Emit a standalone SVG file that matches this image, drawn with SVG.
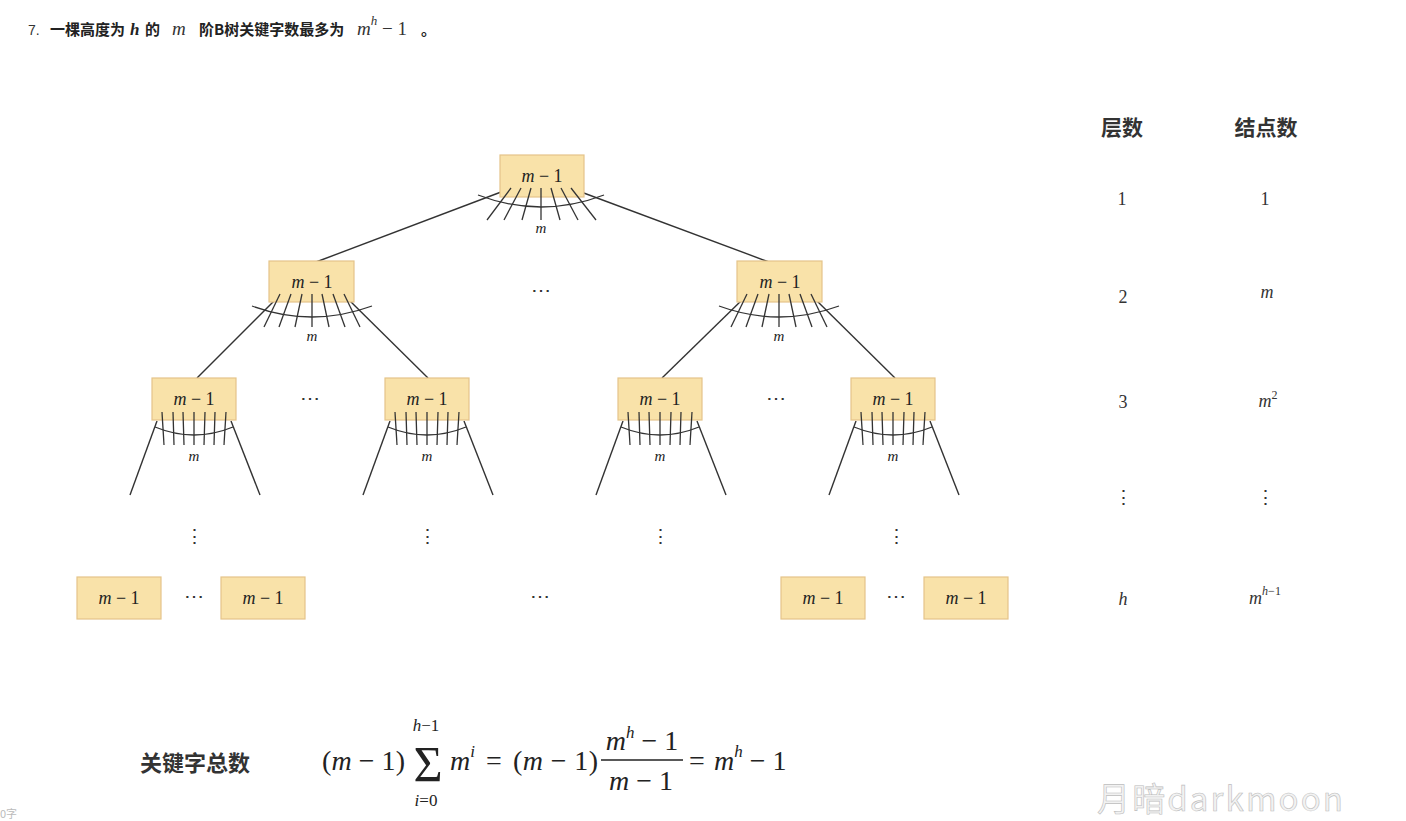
<svg xmlns="http://www.w3.org/2000/svg" width="1406" height="821" viewBox="0 0 1406 821">
<style>
.box{fill:#f9e2a9;stroke:#e4c48a;stroke-width:1.2}
.lbl{font-family:"Liberation Serif",serif;font-size:18px;fill:#222;text-anchor:middle}
.it{font-style:italic}
.edge{stroke:#333;stroke-width:1.4;fill:none}
.fan line{stroke:#333;stroke-width:1.3}
.fan path{stroke:#333;stroke-width:1.3;fill:none}
.sm{font-family:"Liberation Serif",serif;font-size:15px;font-style:italic;fill:#222;text-anchor:middle}
.dots{font-family:"DejaVu Serif",serif;font-size:20px;fill:#333;text-anchor:middle}
.vd{font-family:"DejaVu Serif",serif;font-size:19px;fill:#333;text-anchor:middle}
.hd{font-family:"Noto Sans CJK SC",sans-serif;font-size:21px;font-weight:bold;fill:#333;text-anchor:middle}
.tb{font-family:"Liberation Serif",serif;font-size:18px;fill:#333;text-anchor:middle}
.f{font-family:"Liberation Serif",serif;font-size:28px;fill:#222}
.fs{font-family:"Liberation Serif",serif;font-size:17px;fill:#222}
.t{font-family:"Noto Sans CJK SC",sans-serif;font-size:15px;font-weight:bold;fill:#222}
.tm{font-family:"Liberation Serif",serif;font-size:19px;fill:#333}
</style>
<defs>
<g id="fanA" class="fan">
<line x1="-32" y1="-8" x2="-48" y2="25"/>
<line x1="-21" y1="-8" x2="-33" y2="25"/>
<line x1="-10" y1="-8" x2="-17" y2="25"/>
<line x1="0" y1="-8" x2="0" y2="25"/>
<line x1="10" y1="-8" x2="17" y2="25"/>
<line x1="21" y1="-8" x2="33" y2="25"/>
<line x1="32" y1="-8" x2="48" y2="25"/>
<path d="M -60 4 Q 0 26 60 4"/>
</g>
<g id="fanB" class="fan">
<line x1="-32" y1="-8" x2="-30" y2="25"/>
<line x1="-21" y1="-8" x2="-20" y2="25"/>
<line x1="-11" y1="-8" x2="-10" y2="25"/>
<line x1="0" y1="-8" x2="0" y2="25"/>
<line x1="11" y1="-8" x2="10" y2="25"/>
<line x1="21" y1="-8" x2="20" y2="25"/>
<line x1="32" y1="-8" x2="30" y2="25"/>
<path d="M -39 7 Q 0 23 39 7"/>
</g>
</defs>
<rect width="1406" height="821" fill="#fff"/>

<g id="title">
<text x="28" y="35" font-family="Liberation Sans,sans-serif" font-size="14" fill="#333">7.</text>
<text class="t" x="50" y="35">一棵高度为</text>
<text x="130" y="35" font-family="Liberation Serif,serif" font-style="italic" font-weight="bold" font-size="17" fill="#222">h</text>
<text class="t" x="145" y="35">的</text>
<text class="tm" x="172" y="35" font-style="italic">m</text>
<text class="t" x="199" y="35">阶B树关键字数最多为</text>
<text class="tm" x="357" y="35"><tspan font-style="italic">m</tspan><tspan font-size="13" dy="-10" font-style="italic">h</tspan><tspan dy="10"> − 1</tspan></text>
<text class="t" x="421" y="35">。</text>
</g>

<g id="connectors">
<line class="edge" x1="509" y1="189" x2="316" y2="262"/>
<line class="edge" x1="573" y1="189" x2="769" y2="262"/>
<line class="edge" x1="276" y1="299" x2="197" y2="378"/>
<line class="edge" x1="348" y1="299" x2="428" y2="378"/>
<line class="edge" x1="743" y1="299" x2="662" y2="378"/>
<line class="edge" x1="815" y1="299" x2="895" y2="378"/>
<line class="edge" x1="157" y1="421" x2="130" y2="495"/>
<line class="edge" x1="231" y1="421" x2="260" y2="495"/>
<line class="edge" x1="390" y1="421" x2="363" y2="495"/>
<line class="edge" x1="464" y1="421" x2="493" y2="495"/>
<line class="edge" x1="623" y1="421" x2="596" y2="495"/>
<line class="edge" x1="697" y1="421" x2="726" y2="495"/>
<line class="edge" x1="856" y1="421" x2="829" y2="495"/>
<line class="edge" x1="930" y1="421" x2="959" y2="495"/>
</g>

<g id="root">
<rect class="box" x="500" y="155" width="84" height="42"/>
<text class="lbl" x="542" y="182"><tspan class="it">m</tspan> − 1</text>
<g transform="translate(541,196)" class="fan">
<line x1="-30" y1="-8" x2="-54" y2="24"/>
<line x1="-20" y1="-8" x2="-37" y2="24"/>
<line x1="-10" y1="-8" x2="-19" y2="24"/>
<line x1="0" y1="-8" x2="0" y2="24"/>
<line x1="10" y1="-8" x2="19" y2="24"/>
<line x1="20" y1="-8" x2="37" y2="24"/>
<line x1="30" y1="-8" x2="55" y2="24"/>
<path d="M -63 -1 Q 0 23 63 -1"/>
</g>
<text class="sm" x="541" y="233">m</text>
</g>

<g id="n2a">
<rect class="box" x="269" y="261" width="85" height="41"/>
<text class="lbl" x="312" y="288"><tspan class="it">m</tspan> − 1</text>
<use href="#fanA" x="312" y="302"/>
<text class="sm" x="312" y="341">m</text>
</g>
<g id="n2b">
<rect class="box" x="737" y="261" width="85" height="41"/>
<text class="lbl" x="780" y="288"><tspan class="it">m</tspan> − 1</text>
<use href="#fanA" x="779" y="302"/>
<text class="sm" x="779" y="341">m</text>
</g>
<text class="dots" x="541" y="297">⋯</text>

<g id="n3a">
<rect class="box" x="152" y="378" width="84" height="42"/>
<text class="lbl" x="194" y="405"><tspan class="it">m</tspan> − 1</text>
<use href="#fanB" x="194" y="420"/>
<text class="sm" x="194" y="461">m</text>
</g>
<g id="n3b">
<rect class="box" x="385" y="378" width="84" height="42"/>
<text class="lbl" x="427" y="405"><tspan class="it">m</tspan> − 1</text>
<use href="#fanB" x="427" y="420"/>
<text class="sm" x="427" y="461">m</text>
</g>
<g id="n3c">
<rect class="box" x="618" y="378" width="84" height="42"/>
<text class="lbl" x="660" y="405"><tspan class="it">m</tspan> − 1</text>
<use href="#fanB" x="660" y="420"/>
<text class="sm" x="660" y="461">m</text>
</g>
<g id="n3d">
<rect class="box" x="851" y="378" width="84" height="42"/>
<text class="lbl" x="893" y="405"><tspan class="it">m</tspan> − 1</text>
<use href="#fanB" x="893" y="420"/>
<text class="sm" x="893" y="461">m</text>
</g>
<text class="dots" x="310" y="405">⋯</text>
<text class="dots" x="776" y="405">⋯</text>

<text class="vd" x="194" y="543">⋮</text>
<text class="vd" x="427" y="543">⋮</text>
<text class="vd" x="660" y="543">⋮</text>
<text class="vd" x="896" y="543">⋮</text>

<g id="leaf1">
<rect class="box" x="77" y="577" width="84" height="42"/>
<text class="lbl" x="119" y="604"><tspan class="it">m</tspan> − 1</text>
</g>
<g id="leaf2">
<rect class="box" x="221" y="577" width="84" height="42"/>
<text class="lbl" x="263" y="604"><tspan class="it">m</tspan> − 1</text>
</g>
<g id="leaf3">
<rect class="box" x="781" y="577" width="84" height="42"/>
<text class="lbl" x="823" y="604"><tspan class="it">m</tspan> − 1</text>
</g>
<g id="leaf4">
<rect class="box" x="924" y="577" width="84" height="42"/>
<text class="lbl" x="966" y="604"><tspan class="it">m</tspan> − 1</text>
</g>
<text class="dots" x="194" y="603">⋯</text>
<text class="dots" x="540" y="603">⋯</text>
<text class="dots" x="896" y="603">⋯</text>

<g id="table">
<text class="hd" x="1122" y="135">层数</text>
<text class="hd" x="1266" y="135">结点数</text>
<text class="tb" x="1122" y="205">1</text>
<text class="tb" x="1265" y="205">1</text>
<text class="tb" x="1123" y="303">2</text>
<text class="tb it" x="1267" y="298">m</text>
<text class="tb" x="1123" y="408">3</text>
<text class="tb" x="1268" y="407"><tspan class="it">m</tspan><tspan font-size="12" dy="-8">2</tspan></text>
<text class="vd" x="1123" y="504">⋮</text>
<text class="vd" x="1265" y="504">⋮</text>
<text class="tb it" x="1123" y="605">h</text>
<text class="tb" x="1265" y="604"><tspan class="it">m</tspan><tspan font-size="12" dy="-9"><tspan class="it">h</tspan>−1</tspan></text>
</g>

<g id="formula">
<text font-family="Noto Sans CJK SC,sans-serif" font-size="22" font-weight="bold" fill="#333" x="140" y="771">关键字总数</text>
<text class="f" x="322" y="770" textLength="83">(<tspan font-style="italic">m</tspan> − 1)</text>
<text font-family="Liberation Serif,serif" font-size="50" fill="#222" x="428" y="781" text-anchor="middle">Σ</text>
<text class="fs" x="426" y="731" text-anchor="middle"><tspan font-style="italic">h</tspan>−1</text>
<text class="fs" x="426" y="806" text-anchor="middle"><tspan font-style="italic">i</tspan>=0</text>
<text class="f" x="450" y="770"><tspan font-style="italic">m</tspan><tspan font-size="17" dy="-13" font-style="italic">i</tspan></text>
<text class="f" x="486" y="770">=</text>
<text class="f" x="513" y="770" textLength="85">(<tspan font-style="italic">m</tspan> − 1)</text>
<line x1="601" y1="760" x2="683" y2="760" stroke="#222" stroke-width="1.4"/>
<text class="f" x="642" y="750" text-anchor="middle"><tspan font-style="italic">m</tspan><tspan font-size="17" dy="-12" font-style="italic">h</tspan><tspan dy="12"> − 1</tspan></text>
<text class="f" x="641" y="790" text-anchor="middle"><tspan font-style="italic">m</tspan> − 1</text>
<text class="f" x="689" y="770">=</text>
<text class="f" x="714" y="770"><tspan font-style="italic">m</tspan><tspan font-size="17" dy="-13" font-style="italic">h</tspan><tspan dy="13"> − 1</tspan></text>
</g>

<text x="1097" y="811" textLength="246" font-family="Noto Sans CJK SC,sans-serif" font-size="33" fill="#f2f2f2" stroke="#bdbdbd" stroke-width="0.6">月暗darkmoon</text>
<text x="0" y="818" font-family="Noto Sans CJK SC,sans-serif" font-size="11" fill="#bbb">0字</text>
</svg>
